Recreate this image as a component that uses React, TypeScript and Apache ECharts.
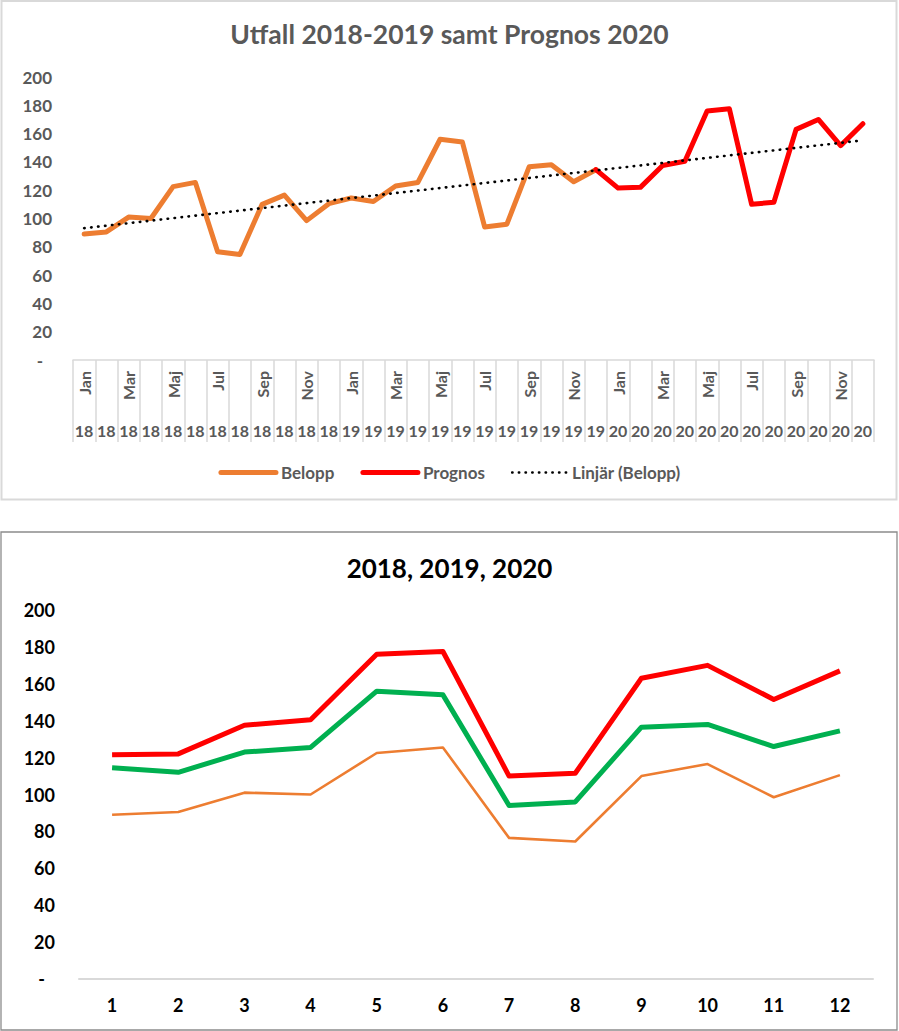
import React, { useEffect, useRef } from "react";
import * as echarts from "echarts";

const monthNames = ["Jan", "Feb", "Mar", "Apr", "Maj", "Jun", "Jul", "Aug", "Sep", "Okt", "Nov", "Dec"];
const yearShort = ["18", "19", "20"];
const monthNumbers = ["1", "2", "3", "4", "5", "6", "7", "8", "9", "10", "11", "12"];

const belopp2018 = [89, 90.5, 101, 100, 122.5, 125.5, 76.5, 74.5, 110, 116.5, 98.5, 110.5];
const belopp2019 = [114.5, 112, 123, 125.5, 156, 154, 94, 96, 136.5, 138, 126, 134.5];
const prognos2020 = [121.5, 122, 137.5, 140.5, 176, 177.5, 110, 111.5, 163, 170, 151.5, 167];

const yTicks = { min: 0, max: 200, interval: 20 };

const FONT = "Lato, 'Open Sans', sans-serif";

// 36 months Jan 2018 .. Dec 2020
const topMonthLabels: string[] = [];
const topYearLabels: string[] = [];
yearShort.forEach((y) => {
  monthNames.forEach((m) => {
    topMonthLabels.push(m);
    topYearLabels.push(y);
  });
});

const beloppAll = [...belopp2018, ...belopp2019];
const beloppSeries: (number | null)[] = [...beloppAll, ...prognos2020.map(() => null)];
const prognosSeries: (number | null)[] = [
  ...beloppAll.slice(0, beloppAll.length - 1).map(() => null),
  beloppAll[beloppAll.length - 1],
  ...prognos2020,
];

// Excel linear trendline of Belopp (least squares), extended forward over the forecast period
function linearTrend(values: number[], total: number): number[] {
  const n = values.length;
  const mx = (n - 1) / 2;
  const my = values.reduce((a, b) => a + b, 0) / n;
  let sxy = 0;
  let sxx = 0;
  values.forEach((v, i) => {
    sxy += (i - mx) * (v - my);
    sxx += (i - mx) * (i - mx);
  });
  const slope = sxy / sxx;
  const icpt = my - slope * mx;
  const out: number[] = [];
  for (let i = 0; i < total; i++) out.push(+(icpt + slope * i).toFixed(2));
  return out;
}
const trendSeries = linearTrend(beloppAll, topMonthLabels.length);

export default function App() {
  const ref = useRef<HTMLDivElement>(null);

  useEffect(() => {
    if (!ref.current) return;
    const chart = echarts.init(ref.current, undefined, { renderer: "svg" });

    const grayText = { color: "#595959", fontWeight: "bold" as const, fontFamily: FONT };
    const blackText = { color: "#000000", fontWeight: "bold" as const, fontFamily: FONT };

    const option: any = {
      animation: false,
      backgroundColor: "#ffffff",
      textStyle: { fontFamily: FONT },
      graphic: [
        {
          type: "rect",
          z: -10,
          shape: { x: 1.5, y: 1, width: 895, height: 498.5 },
          style: { fill: "#ffffff", stroke: "#d9d9d9", lineWidth: 2 },
        },
        {
          type: "rect",
          z: -10,
          shape: { x: 1, y: 532, width: 896, height: 498 },
          style: { fill: "#ffffff", stroke: "#8c8c8c", lineWidth: 1.3 },
        },
      ],
      title: [
        {
          text: "Utfall 2018-2019 samt Prognos 2020",
          left: "center",
          top: 15,
          textStyle: { ...grayText, fontSize: 26.5 },
        },
        {
          text: "2018, 2019, 2020",
          left: "center",
          top: 550,
          textStyle: { ...blackText, fontSize: 26 },
        },
      ],
      legend: {
        show: true,
        left: "center",
        top: 459,
        itemWidth: 55,
        itemHeight: 14,
        itemGap: 26,
        itemStyle: { opacity: 0 },
        textStyle: { ...grayText, fontSize: 17 },
        data: [
          { name: "Belopp", lineStyle: { width: 5, color: "#ED7D31", cap: "round" } },
          { name: "Prognos", lineStyle: { width: 5, color: "#FF0000", cap: "round" } },
          {
            name: "Linjär (Belopp)",
            lineStyle: { width: 2.4, color: "#000000", type: [0.5, 6.2], cap: "round" },
          },
        ],
      },
      grid: [
        { left: 73, right: 25, top: 77, height: 283 },
        { left: 79, right: 26, top: 610, height: 369 },
      ],
      xAxis: [
        {
          type: "category",
          gridIndex: 0,
          data: topMonthLabels,
          boundaryGap: true,
          axisLine: { show: true, onZero: false, lineStyle: { color: "#d9d9d9", width: 1.5 } },
          axisTick: { show: true, interval: 0, length: 82, lineStyle: { color: "#d9d9d9", width: 1.5 } },
          axisLabel: { interval: 1, rotate: 90, margin: 11, fontSize: 16, ...grayText },
          splitLine: { show: false },
        },
        {
          type: "category",
          gridIndex: 0,
          position: "bottom",
          data: topYearLabels,
          boundaryGap: true,
          axisLine: { show: false, onZero: false },
          axisTick: { show: false },
          axisLabel: { interval: 0, margin: 62, fontSize: 16, ...grayText },
          splitLine: { show: false },
        },
        {
          type: "category",
          gridIndex: 1,
          data: monthNumbers,
          boundaryGap: true,
          axisLine: { show: true, onZero: false, lineStyle: { color: "#d9d9d9", width: 2 } },
          axisTick: { show: false },
          axisLabel: { interval: 0, margin: 17, fontSize: 18, ...blackText },
          splitLine: { show: false },
        },
      ],
      yAxis: [
        {
          type: "value",
          gridIndex: 0,
          ...yTicks,
          axisLine: { show: false },
          axisTick: { show: false },
          splitLine: { show: false },
          axisLabel: {
            margin: 21,
            fontSize: 17,
            ...grayText,
            formatter: (v: number) => (v === 0 ? "{d|-}" : String(v)),
            rich: { d: { fontSize: 17, ...grayText, padding: [0, 9, 0, 0] } },
          },
        },
        {
          type: "value",
          gridIndex: 1,
          ...yTicks,
          axisLine: { show: false },
          axisTick: { show: false },
          splitLine: { show: false },
          axisLabel: {
            margin: 24,
            fontSize: 18,
            ...blackText,
            formatter: (v: number) => (v === 0 ? "{d|-}" : String(v)),
            rich: { d: { fontSize: 18, ...blackText, padding: [0, 10, 0, 0] } },
          },
        },
      ],
      series: [
        {
          name: "Belopp",
          type: "line",
          xAxisIndex: 0,
          yAxisIndex: 0,
          data: beloppSeries,
          symbol: "none",
          color: "#ED7D31",
          lineStyle: { width: 5, color: "#ED7D31", join: "round", cap: "round" },
          z: 2,
        },
        {
          name: "Prognos",
          type: "line",
          xAxisIndex: 0,
          yAxisIndex: 0,
          data: prognosSeries,
          symbol: "none",
          color: "#FF0000",
          lineStyle: { width: 5, color: "#FF0000", join: "round", cap: "round" },
          z: 3,
        },
        {
          name: "Linjär (Belopp)",
          type: "line",
          xAxisIndex: 0,
          yAxisIndex: 0,
          data: trendSeries,
          symbol: "none",
          color: "#000000",
          lineStyle: { width: 2.6, color: "#000000", type: [0.5, 6.5], cap: "round" },
          z: 4,
        },
        {
          name: "2018",
          type: "line",
          xAxisIndex: 2,
          yAxisIndex: 1,
          data: belopp2018,
          symbol: "none",
          color: "#ED7D31",
          lineStyle: { width: 2.6, color: "#ED7D31", join: "round" },
        },
        {
          name: "2019",
          type: "line",
          xAxisIndex: 2,
          yAxisIndex: 1,
          data: belopp2019,
          symbol: "none",
          color: "#00B050",
          lineStyle: { width: 5, color: "#00B050", join: "round" },
        },
        {
          name: "2020",
          type: "line",
          xAxisIndex: 2,
          yAxisIndex: 1,
          data: prognos2020,
          symbol: "none",
          color: "#FF0000",
          lineStyle: { width: 5, color: "#FF0000", join: "round" },
        },
      ],
    };

    chart.setOption(option);
    return () => {
      chart.dispose();
    };
  }, []);

  return (
    <div
      ref={ref}
      style={{ position: "fixed", left: 0, top: 0, width: 899, height: 1031, background: "#fff" }}
    />
  );
}
